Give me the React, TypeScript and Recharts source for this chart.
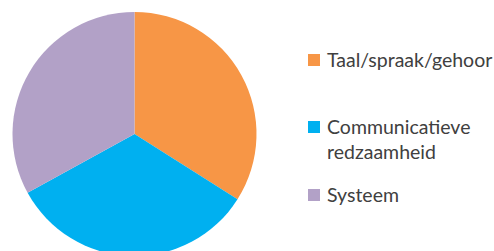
import { PieChart, Pie, Cell, Legend } from "recharts";

const categories = ["Taal/spraak/gehoor", "Communicatieve redzaamheid", "Systeem"];
const values = [34, 33, 33];
const colors = ["#F79646", "#00B0F0", "#B2A1C7"];

const data = categories.map((name, i) => ({ name, value: values[i] }));

// Excel-style vertical legend, labels wrap like the original
const legendLines = [["Taal/spraak/gehoor"], ["Communicatieve", "redzaamheid"], ["Systeem"]];
const legendTops = [47, 114, 182];

function SideLegend() {
  return (
    <div style={{ position: "relative", width: 190, height: 251 }}>
      {categories.map((c, i) => (
        <div
          key={c}
          style={{
            position: "absolute",
            top: legendTops[i],
            left: 0,
            display: "flex",
            alignItems: "flex-start",
          }}
        >
          <span
            style={{
              width: 12,
              height: 12,
              background: colors[i],
              marginTop: 7,
              marginRight: 7,
              flex: "none",
            }}
          />
          <span style={{ lineHeight: "25px", whiteSpace: "nowrap" }}>
            {legendLines[i].map((l) => (
              <div key={l}>{l}</div>
            ))}
          </span>
        </div>
      ))}
    </div>
  );
}

export default function App() {
  return (
    <div style={{ width: 494, height: 251, overflow: "hidden", background: "#fff" }}>
      <style>{`body{margin:0}`}</style>
      <PieChart width={494} height={251} margin={{ top: 0, right: 0, bottom: 0, left: 0 }}>
        <Pie
          data={data}
          dataKey="value"
          nameKey="name"
          cx={134.5}
          cy={134}
          outerRadius={122}
          startAngle={90}
          endAngle={-270}
          stroke="none"
          isAnimationActive={false}
        >
          {data.map((d, i) => (
            <Cell key={d.name} fill={colors[i]} />
          ))}
        </Pie>
        <Legend
          content={() => <SideLegend />}
          wrapperStyle={{
            position: "absolute",
            left: 308,
            top: 0,
            width: 190,
            fontFamily: "Lato, sans-serif",
            fontSize: 19.5,
            color: "#404040",
          }}
        />
      </PieChart>
    </div>
  );
}
